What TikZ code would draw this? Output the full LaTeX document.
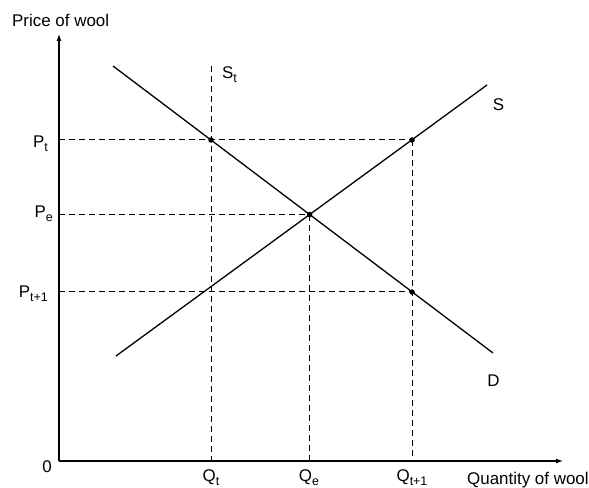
\documentclass[tikz,border=0pt]{standalone}
\usepackage{fontspec}
\setmainfont{Liberation Sans}
\usetikzlibrary{arrows.meta}
\newcommand{\lowsub}[1]{\raisebox{-0.4ex}{\fontsize{12.5}{14}\selectfont #1}}

\begin{document}
\begin{tikzpicture}[x=1bp,y=1bp,
      every node/.style={font=\fontsize{17}{20}\selectfont,inner sep=0pt},
      axis/.style={line width=1.2bp,-{Latex[length=7bp,width=5bp]}},
      curve/.style={line width=1.3bp},
      guide/.style={line width=1bp,dash pattern=on 6bp off 4bp},
      dot/.style={circle,fill,inner sep=0pt,minimum size=5.5bp}]
    \useasboundingbox (-59,-27) rectangle (530,461);
    % axes and line ends
    \coordinate (O) at (0,0);
    \coordinate (ytip) at (0,427);
    \coordinate (xtip) at (504,0);
    \coordinate (d1) at (54,395);
    \coordinate (d2) at (434,108);
    \coordinate (s1) at (57,105);
    \coordinate (s2) at (428,376);
    \coordinate (stop) at (152,395);
    % price / quantity points
    \node[dot] (A) at (152,321) {};
    \node[dot] (B) at (353,321) {};
    \node[dot] (E) at (intersection of d1--d2 and s1--s2) {};
    \node[dot] (C) at (353,169) {};
    \draw[guide] (O |- A) -- (B);
    \draw[guide] (O |- E) -- (E.center);
    \draw[guide] (O |- C) -- (C.center);
    \draw[guide] (stop) -- (stop |- O);
    \draw[guide] (E.center) -- (E |- O);
    \draw[guide] (B.center) -- (B |- O);
    \draw[curve] (d1) -- (d2);
    \draw[curve] (s1) -- (s2);
    \draw[axis] (O) -- (ytip);
    \draw[axis] (O) -- (xtip);
    % labels
    \node[anchor=base west] (ylab) at (-47,434) {Price of wool};
    \node[anchor=base west] (xlab) at (408,-23.5) {Quantity of wool};
    \node[anchor=base east] (zero) at (-7,-12) {0};
    \node[anchor=base east] (pt) at (-11,313) {P\lowsub{t}};
    \node[anchor=base east] (pe) at (-6,243) {P\lowsub{e}};
    \node[anchor=base east] (pt1) at (-11,163) {P\lowsub{t+1}};
    \node[anchor=base] (qt) at (152,-21) {Q\lowsub{t}};
    \node[anchor=base] (qe) at (250,-21) {Q\lowsub{e}};
    \node[anchor=base] (qt1) at (353,-21) {Q\lowsub{t+1}};
    \node[anchor=base west] (stl) at (163,382) {S\lowsub{t}};
    \node[anchor=base] (sl) at (439.5,350) {S};
    \node[anchor=base] (dl) at (434.5,74) {D};
  \end{tikzpicture}
\end{document}
